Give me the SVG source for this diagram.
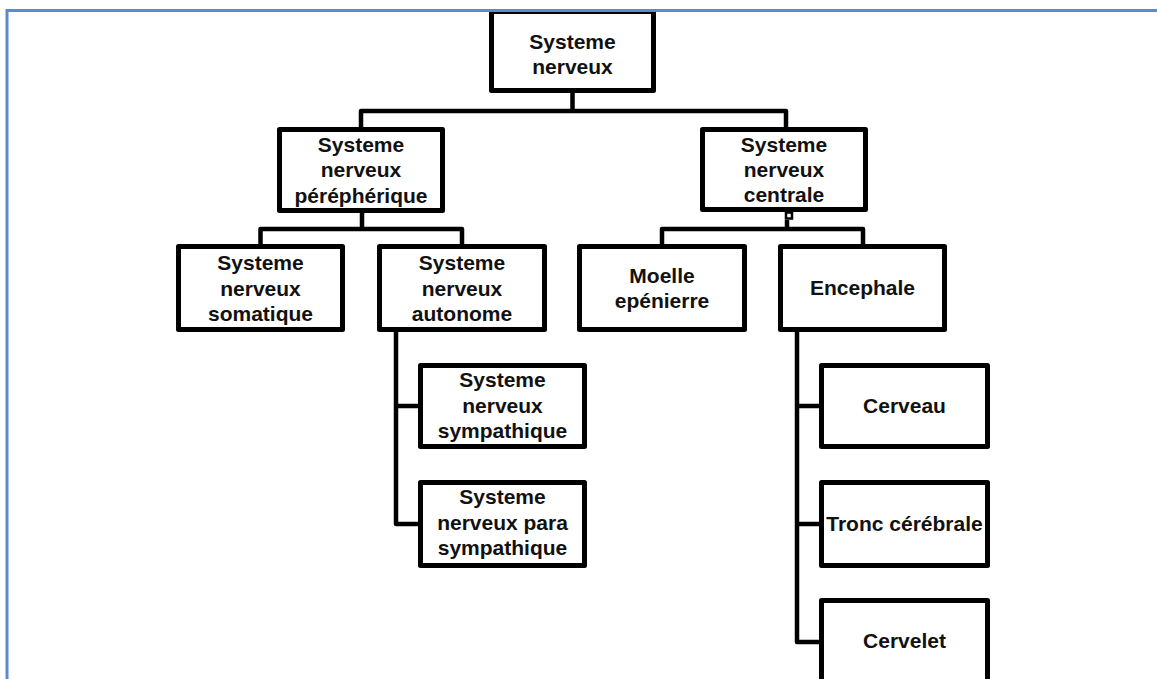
<svg xmlns="http://www.w3.org/2000/svg" width="1157" height="679" viewBox="0 0 1157 679">
<style>
.box{fill:#fff;stroke:#000;stroke-width:5;stroke-linejoin:round}
.lbl{font-family:"Liberation Sans",Arial,sans-serif;font-weight:bold;font-size:21px;fill:#111;text-anchor:middle}
.con{fill:none;stroke:#000;stroke-width:4.5;stroke-linejoin:round}
.frame{fill:none;stroke:#5B8BC9;stroke-width:3}
</style>
<rect width="1157" height="679" fill="#fff"/>
<g id="connectors">
<path class="con" d="M572.5 93 V111"/>
<path class="con" d="M361 127 V111 H786 V127"/>
<path class="con" d="M362 213 V229"/>
<path class="con" d="M260.5 244 V229 H462 V244"/>
<path class="con" d="M787 220 V229"/>
<path class="con" d="M662 244 V229 H863 V244"/>
<path class="con" d="M396 332 V524 H418"/>
<path class="con" d="M396 406 H418"/>
<path class="con" d="M797 332 V642 H819"/>
<path class="con" d="M797 406 H819"/>
<path class="con" d="M797 524 H819"/>
</g>
<g id="n-root">
<rect class="box" x="491.5" y="11.5" width="162" height="79"/>
<text class="lbl" x="572.5" y="49">Systeme</text>
<text class="lbl" x="572.5" y="74">nerveux</text>
</g>
<g id="n-snp">
<rect class="box" x="279.5" y="129.5" width="163" height="81"/>
<text class="lbl" x="361" y="152">Systeme</text>
<text class="lbl" x="361" y="177">nerveux</text>
<text class="lbl" x="361" y="203">péréphérique</text>
</g>
<g id="n-snc">
<rect class="box" x="702.5" y="129.5" width="163" height="80"/>
<text class="lbl" x="784" y="152">Systeme</text>
<text class="lbl" x="784" y="177">nerveux</text>
<text class="lbl" x="784" y="202">centrale</text>
<rect x="786" y="212.5" width="6" height="6" fill="#fff" stroke="#000" stroke-width="2.5"/>
</g>
<g id="n-somatique">
<rect class="box" x="178.5" y="246.5" width="164" height="83"/>
<text class="lbl" x="260.5" y="270">Systeme</text>
<text class="lbl" x="260.5" y="296">nerveux</text>
<text class="lbl" x="260.5" y="321">somatique</text>
</g>
<g id="n-autonome">
<rect class="box" x="379.5" y="246.5" width="165" height="83"/>
<text class="lbl" x="462" y="270">Systeme</text>
<text class="lbl" x="462" y="296">nerveux</text>
<text class="lbl" x="462" y="321">autonome</text>
</g>
<g id="n-moelle">
<rect class="box" x="579.5" y="246.5" width="165" height="83"/>
<text class="lbl" x="662" y="283">Moelle</text>
<text class="lbl" x="662" y="308">epénierre</text>
</g>
<g id="n-encephale">
<rect class="box" x="780.5" y="246.5" width="164" height="83"/>
<text class="lbl" x="862.5" y="295">Encephale</text>
</g>
<g id="n-sympathique">
<rect class="box" x="420.5" y="365.5" width="164" height="81"/>
<text class="lbl" x="502.5" y="387">Systeme</text>
<text class="lbl" x="502.5" y="413">nerveux</text>
<text class="lbl" x="502.5" y="438">sympathique</text>
</g>
<g id="n-parasympathique">
<rect class="box" x="420.5" y="482.5" width="164" height="83"/>
<text class="lbl" x="502.5" y="504">Systeme</text>
<text class="lbl" x="502.5" y="530">nerveux para</text>
<text class="lbl" x="502.5" y="555">sympathique</text>
</g>
<g id="n-cerveau">
<rect class="box" x="821.5" y="365.5" width="166" height="81"/>
<text class="lbl" x="904.5" y="413">Cerveau</text>
</g>
<g id="n-tronc">
<rect class="box" x="821.5" y="482.5" width="166" height="83"/>
<text class="lbl" x="904.5" y="531">Tronc cérébrale</text>
</g>
<g id="n-cervelet">
<rect class="box" x="821.5" y="600.5" width="166" height="83"/>
<text class="lbl" x="904.5" y="648">Cervelet</text>
</g>
<path class="frame" d="M7 679 V10.5 H1157"/>
</svg>
